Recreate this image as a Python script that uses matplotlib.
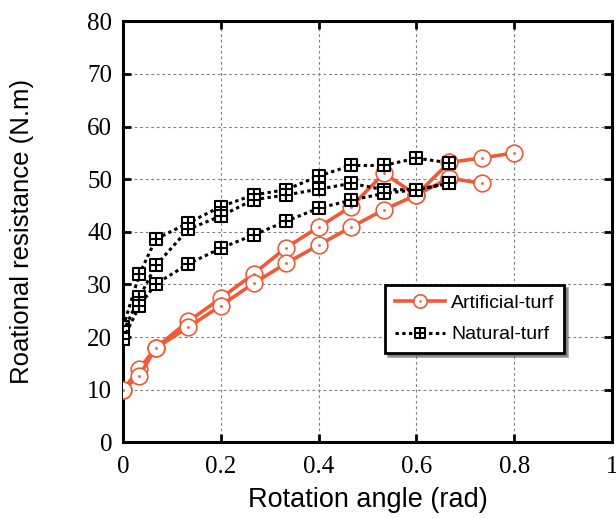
import numpy as np
import matplotlib
matplotlib.use("Agg")
import matplotlib.pyplot as plt
from matplotlib.path import Path

# rotation angle (rad)
x_art = [0, 1/30, 1/15, 2/15, 3/15, 4/15, 5/15, 6/15, 7/15, 8/15, 9/15, 10/15, 11/15, 12/15]
x_nat = [0, 1/30, 1/15, 2/15, 3/15, 4/15, 5/15, 6/15, 7/15, 8/15, 9/15, 10/15]

# artificial turf (N.m)
art1 = [10, 14, 18, 23, 27.4, 32, 37, 40.9, 44.8, 51.1, 47, 50.2, 49.2]
art2 = [10, 12.7, 17.9, 21.9, 26, 30.2, 34, 37.5, 40.9, 44.2, 47, 53.2, 54, 55]

# natural turf (N.m)
nat1 = [22, 32, 38.6, 41.7, 44.8, 47, 48, 50.6, 52.6, 52.6, 54, 53.1]
nat2 = [21, 27.6, 33.6, 40.5, 43, 46.1, 47, 48.1, 49.2, 48, 48, 49.2]
nat3 = [19.6, 26, 30.1, 33.9, 36.9, 39.4, 42, 44.5, 46, 47.3, 48, 49.2]

orange = '#F05A36'

# circle with a dot in the middle
circ = Path.make_compound_path(Path.unit_circle(),
                               Path(Path.unit_circle().vertices * 0.07,
                                    Path.unit_circle().codes))
# square with a cross inside
sq = Path([(-1, -1), (1, -1), (1, 1), (-1, 1), (-1, -1),
           (0, -1), (0, 1), (-1, 0), (1, 0)],
          [Path.MOVETO, Path.LINETO, Path.LINETO, Path.LINETO, Path.CLOSEPOLY,
           Path.MOVETO, Path.LINETO, Path.MOVETO, Path.LINETO])

fig = plt.figure(figsize=(6.16, 5.18), dpi=100)
ax = fig.add_axes([0.2, 0.146, 0.7935, 0.813])

art_kw = dict(color=orange, lw=2.6, marker=circ, ms=12, mfc='white',
              mec=orange, mew=1.2, zorder=3)
nat_kw = dict(color='black', lw=2.2, ls=(0, (1.1, 1.1)), marker=sq, ms=9,
              mfc='white', mec='black', mew=1.5, zorder=4)

ax.plot(x_art[:len(art1)], art1, label='Artificial-turf', **art_kw)
ax.plot(x_art, art2, **art_kw)
ax.plot(x_nat, nat1, label='Natural-turf', **nat_kw)
ax.plot(x_nat, nat2, **nat_kw)
ax.plot(x_nat, nat3, **nat_kw)

ax.set_xlim(0, 1)
ax.set_ylim(0, 80)
ax.set_xticks([0, 0.2, 0.4, 0.6, 0.8, 1])
ax.set_xticklabels(['0', '0.2', '0.4', '0.6', '0.8', '1'])
ax.set_yticks(np.arange(0, 81, 10))

ax.grid(True, color='#808080', ls=(0, (2.5, 2.5)), lw=0.8)
ax.set_axisbelow(True)

for s in ax.spines.values():
    s.set_linewidth(2.2)
ax.tick_params(direction='in', length=6, width=2, top=True, right=True,
               pad=8, labelsize=18)
ax.tick_params(axis='x', pad=10)
for lab in ax.get_xticklabels() + ax.get_yticklabels():
    lab.set_family('Liberation Serif')

ax.set_xlabel('Rotation angle (rad)', family='Liberation Sans', fontsize=19.5,
              labelpad=6)
ax.set_ylabel('Roational resistance (N.m)', family='Liberation Sans',
              fontsize=18.5, labelpad=38)

leg = ax.legend(loc='upper left', bbox_to_anchor=(0.536, 0.374),
                prop={'family': 'Liberation Sans', 'size': 14},
                frameon=True, fancybox=False, shadow=True, edgecolor='black',
                framealpha=1, borderpad=0.5, handlelength=2.6,
                handletextpad=0.3, labelspacing=0.7, borderaxespad=0,
                markerscale=0.8)
leg.get_frame().set_linewidth(2)

fig.savefig('out.png', dpi=100)
